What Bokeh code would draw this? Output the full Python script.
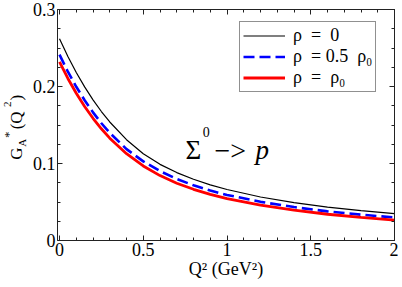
import math
from bokeh.plotting import figure
from bokeh.layouts import row
from bokeh.models import (Range1d, FixedTicker, LinearAxis, CustomJSTickFormatter,
                          Label, Legend, LegendItem)
from bokeh.embed import file_html
from bokeh.resources import INLINE

# ---- data ----
q2 = [0.0, 0.05, 0.1, 0.15, 0.2, 0.25, 0.3, 0.4, 0.5, 0.6, 0.7, 0.8, 0.9,
      1.0, 1.2, 1.4, 1.6, 1.8, 2.0]
ga_rho_0 = [0.262, 0.2389, 0.2182, 0.1995, 0.1827, 0.1675, 0.1539, 0.1309,
            0.1126, 0.0989, 0.0882, 0.0796, 0.0723, 0.0662, 0.0565, 0.0491,
            0.0434, 0.0387, 0.0348]
ga_rho_half = [0.2413, 0.2192, 0.1996, 0.1822, 0.1664, 0.1523, 0.1398, 0.1187,
               0.1028, 0.0901, 0.0799, 0.0717, 0.0649, 0.0592, 0.0502, 0.0434,
               0.0378, 0.0335, 0.0299]
ga_rho_full = [0.232, 0.2104, 0.1912, 0.1740, 0.1587, 0.1451, 0.1329, 0.1127,
               0.0968, 0.0843, 0.0744, 0.0665, 0.0600, 0.0545, 0.0460, 0.0394,
               0.0341, 0.0299, 0.0264]
series_labels = ["ρ  =  0", "ρ  = 0.5  ρ₀", "ρ  =  ρ₀"]

x_major = [0, 0.5, 1, 1.5, 2]
x_minor = [round(0.1 * i, 2) for i in range(21)]
y_major = [0, 0.1, 0.2, 0.3]
y_minor = [round(0.025 * i, 3) for i in range(13)]

FONT = "Liberation Serif"
H = 282
W_LAB = 28
W_MAIN = 370

p = figure(width=W_MAIN, height=H,
           x_range=Range1d(-0.012, 2.0), y_range=Range1d(0, 0.3),
           output_backend="svg", toolbar_location=None,
           min_border_left=29, min_border_right=4, min_border_top=9,
           min_border_bottom=42)
p.xgrid.visible = False
p.ygrid.visible = False
p.outline_line_color = None
p.background_fill_color = "white"
p.border_fill_color = "white"

fmt = CustomJSTickFormatter(code="return tick.toString();")
blank = CustomJSTickFormatter(code="return '';")


def style_axis(ax, major, minor, labels=True):
    ax.ticker = FixedTicker(ticks=major, minor_ticks=minor)
    ax.major_tick_in = 5
    ax.major_tick_out = 0
    ax.minor_tick_in = 3
    ax.minor_tick_out = 0
    ax.axis_line_color = "#222222"
    ax.major_tick_line_color = "#222222"
    ax.minor_tick_line_color = "#222222"
    ax.axis_line_width = 1
    if labels:
        ax.formatter = fmt
        ax.major_label_text_font = FONT
        ax.major_label_text_font_size = "18px"
        ax.major_label_text_color = "black"
        ax.major_label_standoff = 2
    else:
        ax.formatter = blank
        ax.major_label_text_font_size = "0px"
        ax.major_label_standoff = 0


style_axis(p.xaxis[0], x_major, x_minor)
style_axis(p.yaxis[0], y_major, y_minor)
p.xaxis.axis_label = "Q² (GeV²)"
p.xaxis.axis_label_text_font = FONT
p.xaxis.axis_label_text_font_size = "18px"
p.xaxis.axis_label_text_font_style = "normal"
p.xaxis.axis_label_text_color = "black"
p.xaxis.axis_label_standoff = 0

top = LinearAxis()
style_axis(top, x_major, x_minor, labels=False)
p.add_layout(top, "above")
right = LinearAxis()
style_axis(right, y_major, y_minor, labels=False)
p.add_layout(right, "right")

r0 = p.line(q2, ga_rho_0, line_color="black", line_width=1.2)
r1 = p.line(q2, ga_rho_half, line_color="#0000ff", line_width=2.6, line_dash="11 5")
r2 = p.line(q2, ga_rho_full, line_color="#ff0000", line_width=2.8)

legend = Legend(items=[LegendItem(label=series_labels[0], renderers=[r0]),
                       LegendItem(label=series_labels[1], renderers=[r1]),
                       LegendItem(label=series_labels[2], renderers=[r2])],
                location=(182, 148))
legend.border_line_color = "#222222"
legend.border_line_width = 1
legend.background_fill_color = "white"
legend.background_fill_alpha = 1
legend.label_text_font = FONT
legend.label_text_font_size = "18px"
legend.label_text_color = "black"
legend.glyph_width = 42
legend.glyph_height = 21
legend.label_height = 21
legend.label_standoff = 8
legend.spacing = 0
legend.padding = 3
legend.margin = 0
p.add_layout(legend)


def lab(fig, x, y, text, size, style="normal", angle=0.0, align="left", base="alphabetic"):
    fig.add_layout(Label(x=x, y=y, text=text, text_font=FONT, text_font_size=size,
                         text_font_style=style, text_color="black", angle=angle,
                         text_align=align, text_baseline=base))


# reaction annotation  Σ^0 -> p
lab(p, 0.752, 0.1175, "Σ", "27px")
lab(p, 0.855, 0.1410, "0", "14px")
lab(p, 0.925, 0.1175, "−>", "28px")
lab(p, 1.170, 0.1175, "p", "27px", style="italic")

# narrow panel (no axes) that carries the rotated y-axis title  G_A^*(Q^2)
t = figure(width=W_LAB, height=H, x_range=Range1d(0, W_LAB), y_range=Range1d(0, H),
           output_backend="svg", toolbar_location=None, title=None,
           x_axis_location=None, y_axis_location=None,
           min_border_left=0, min_border_right=0, min_border_top=0, min_border_bottom=0)
t.xgrid.visible = False
t.ygrid.visible = False
t.outline_line_color = None
t.background_fill_color = "white"
t.border_fill_color = "white"

A = math.pi / 2
# centres of each glyph group in panel units
lab(t, 15.7, 106.2, "G", "17px", angle=A, align="center", base="middle")
lab(t, 21.0, 119.2, "A", "11px", angle=A, align="center", base="middle")
lab(t, 7.5, 129.2, "*", "13px", angle=A, align="center", base="middle")
lab(t, 16.0, 146.7, "(Q", "17px", angle=A, align="center", base="middle")
lab(t, 7.0, 166.4, "2", "11px", angle=A, align="center", base="middle")
lab(t, 16.0, 174.3, ")", "17px", angle=A, align="center", base="middle")

layout = row(t, p)
open("out.html", "w").write(file_html(layout, INLINE))
